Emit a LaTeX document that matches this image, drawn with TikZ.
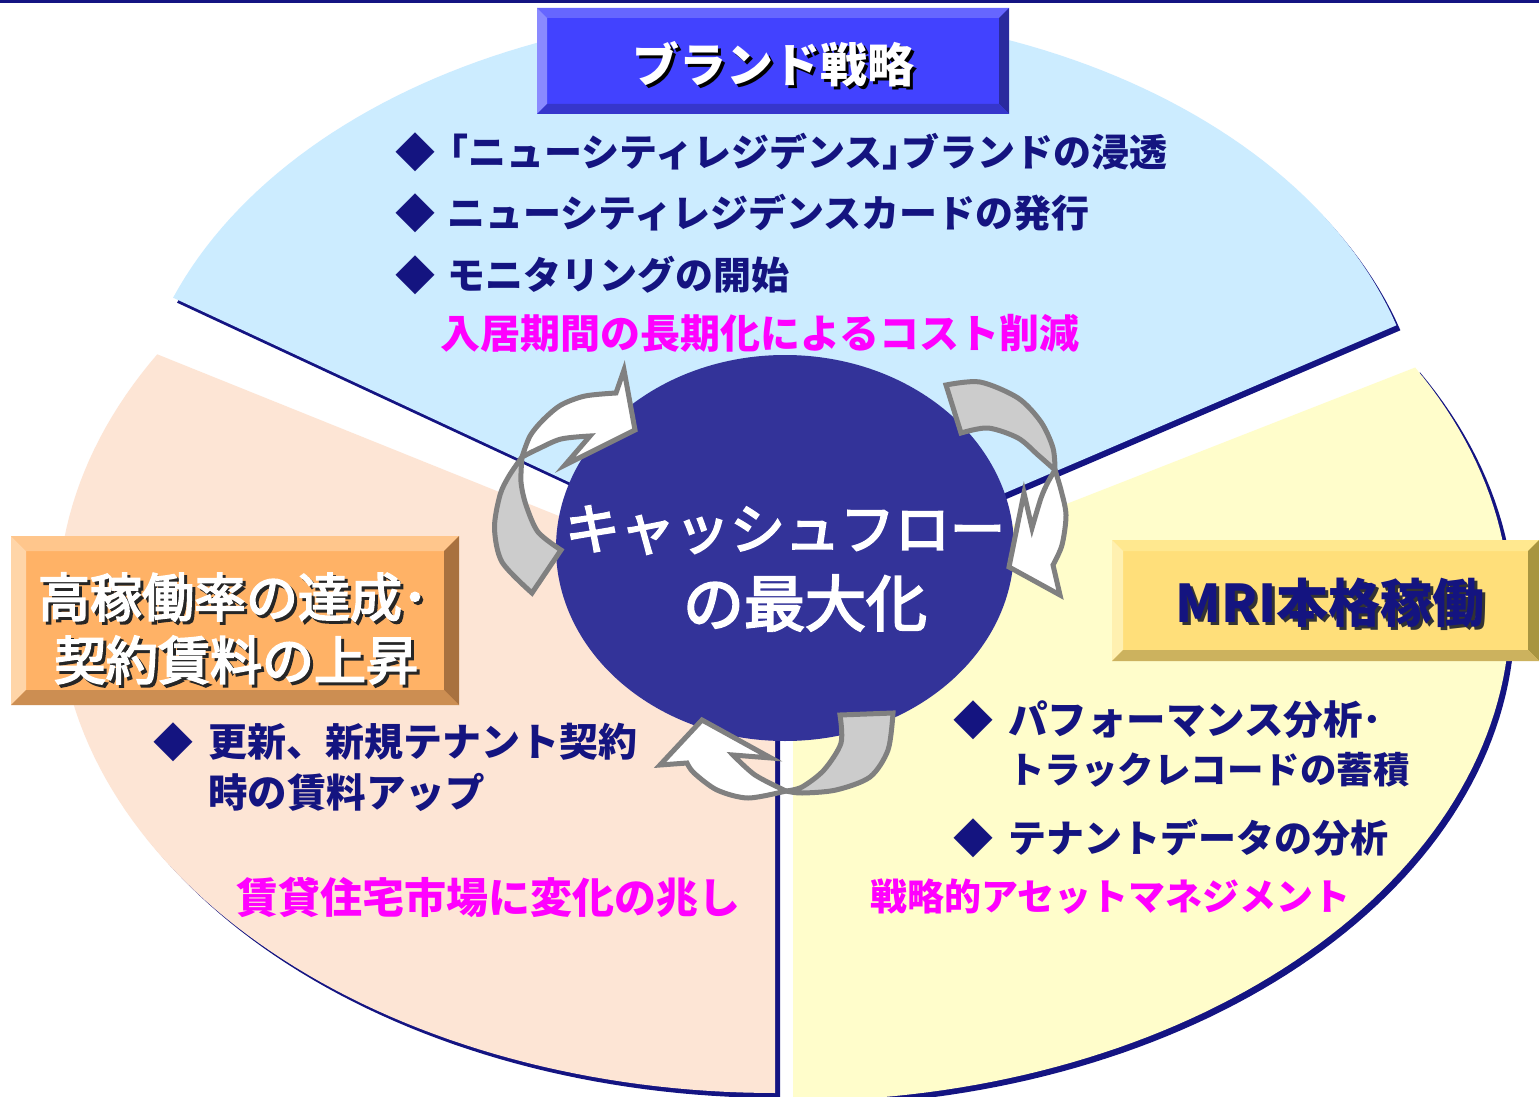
\documentclass[tikz,border=0pt]{standalone}
\usepackage{fontspec}
\newfontfamily\jp{Noto Sans CJK JP}
\newfontfamily\jpm{Noto Sans CJK JP}[FakeBold=3.5]
\definecolor{navyln}{HTML}{141482}
\definecolor{bluefill}{HTML}{CCECFF}
\definecolor{peach}{HTML}{FDE5D5}
\definecolor{yellowf}{HTML}{FFFDCB}
\definecolor{circ}{HTML}{333399}
\definecolor{txtnavy}{HTML}{141480}
\definecolor{pinktxt}{HTML}{FF00FF}
\definecolor{arrgray}{HTML}{808080}
\definecolor{arrfill}{HTML}{CCCCCC}
\newcommand\bevbox[5]{%
  \fill[bvmain] (#1,#2) rectangle (#3,#4);
  \fill[bvtop] (#1,#2) -- (#3,#2) -- ({#3-#5},{#2+#5}) -- ({#1+#5},{#2+#5}) -- cycle;
  \fill[bvleft] (#1,#2) -- ({#1+#5},{#2+#5}) -- ({#1+#5},{#4-#5}) -- (#1,#4) -- cycle;
  \fill[bvright] (#3,#2) -- ({#3-#5},{#2+#5}) -- ({#3-#5},{#4-#5}) -- (#3,#4) -- cycle;
  \fill[bvbot] (#1,#4) -- ({#1+#5},{#4-#5}) -- ({#3-#5},{#4-#5}) -- (#3,#4) -- cycle;
}
\tikzset{
  bullettxt/.style={anchor=west, text=txtnavy, inner sep=0pt, font=\jp\bfseries\fontsize{38}{40}\selectfont},
  bulletmark/.style={text=txtnavy, inner sep=0pt, font=\jp\fontsize{40}{40}\selectfont},
  pinkline/.style={anchor=west, text=pinktxt, inner sep=0pt, font=\jp\bfseries\fontsize{40}{42}\selectfont},
  arrline/.style={draw=arrgray, line width=5pt, line join=miter, miter limit=6},
}
\begin{document}
\begin{tikzpicture}[x=1pt,y=-1pt]
\useasboundingbox (0,0) rectangle (1539,1097);
\fill[white] (0,0) rectangle (1539,1097);
\fill[navyln] (0,0) rectangle (1539,3);

% top wedge
\foreach \dx/\dy/\col in {4/5/navyln, 0/0/bluefill}{
  \fill[\col, shift={(\dx,\dy)}] (790,585) -- plot[domain=200.3:343.5, samples=100, variable=\t] ({778+645*cos(\t)},{450+439*sin(\t)}) -- cycle;
}
% left wedge
\foreach \dx/\dy/\col in {5/5/navyln, 0/0/peach}{
  \fill[\col, shift={(\dx,\dy)}] (775,603) -- plot[domain=210.5:90, samples=90, variable=\t] ({775+717*cos(\t)},{603+490*sin(\t)}) -- cycle;
}
% right wedge
\foreach \dx/\dy/\col in {5/5/navyln, 0/0/yellowf}{
  \fill[\col, shift={(\dx,\dy)}] (793,611) -- plot[domain=-29.8:90, samples=90, variable=\t] ({793+717*cos(\t)},{611+490*sin(\t)}) -- cycle;
}

% central ellipse
\fill[circ] (785,548) ellipse [x radius=229, y radius=193];
\node[text=white, inner sep=0pt, font=\jpm\fontsize{55}{60}\selectfont] (c1) at (785,530) {キャッシュフロー};
\node[text=white, inner sep=0pt, font=\jpm\fontsize{61}{64}\selectfont] (c2) at (805,603) {の最大化};

% arrow top-left
\filldraw[arrline, fill=arrfill] plot[smooth] coordinates {(522,457) (509,476) (500,495) (494.5,528) (502,562) (532,593)} -- plot[smooth] coordinates {(561,550) (538,532) (526,505) (521,482) (522,457)} -- cycle;
\filldraw[arrline, fill=white] plot[smooth] coordinates {(522,457) (530,436) (543,420) (561,405) (585,396) (616,393)} -- (624,370) -- (635,430) -- (565,465) -- plot[smooth] coordinates {(590,436) (561,439) (538,449) (522,457)} -- cycle;
% arrow right
\filldraw[arrline, fill=arrfill] plot[smooth] coordinates {(1055,470) (1053,448) (1041,422) (1018,398) (980,382) (946,385)} -- plot[smooth] coordinates {(961,433) (988,428) (1018,438) (1038,455) (1055,470)} -- cycle;
\filldraw[arrline, fill=white] plot[smooth] coordinates {(1055,470) (1061,490) (1066,515) (1062,545) (1053,565)} -- (1060,595) -- (1009,567) -- (1024,493) -- plot[smooth] coordinates {(1032,528) (1041,498) (1048,482) (1055,470)} -- cycle;
% arrow bottom
\filldraw[arrline, fill=arrfill] plot[smooth] coordinates {(893,713) (888,750) (870,777) (836,790) (802,793) (786,791)} -- plot[smooth] coordinates {(786,791) (802,787) (824,770) (841,743) (840,715)} -- cycle;
\filldraw[arrline, fill=white] plot[smooth] coordinates {(786,791) (748,798) (717,790) (694,773) (687,763)} -- (660,765) -- (702,720) -- (771,758) -- plot[smooth] coordinates {(733,755) (755,775) (786,791)} -- cycle;

% boxes
\definecolor{bvmain}{HTML}{4242FF}
\definecolor{bvtop}{HTML}{6666FF}
\definecolor{bvleft}{HTML}{8A8AFF}
\definecolor{bvright}{HTML}{2A2A9E}
\definecolor{bvbot}{HTML}{3636CC}
\bevbox{537}{8}{1009}{114}{10}
\node[text=black, font=\jp\bfseries\fontsize{47}{48}\selectfont] (h1s) at (776,67) {ブランド戦略};
\node[text=white, font=\jp\bfseries\fontsize{47}{48}\selectfont] (h1) at (773,64) {ブランド戦略};

\definecolor{bvmain}{HTML}{FFB266}
\definecolor{bvtop}{HTML}{FFC68C}
\definecolor{bvleft}{HTML}{FFD5A8}
\definecolor{bvright}{HTML}{A8713F}
\definecolor{bvbot}{HTML}{CC8E52}
\bevbox{11}{536}{459}{705}{15}
\node[text=black!85, font=\jpm\fontsize{52}{54}\selectfont] (h2as) at (236,600) {高稼働率の達成･};
\node[text=white, font=\jpm\fontsize{52}{54}\selectfont] (h2a) at (233,597) {高稼働率の達成･};
\node[text=black!85, font=\jpm\fontsize{52}{54}\selectfont] (h2bs) at (239,663) {契約賃料の上昇};
\node[text=white, font=\jpm\fontsize{52}{54}\selectfont] (h2b) at (236,660) {契約賃料の上昇};

\definecolor{bvmain}{HTML}{FFDF7A}
\definecolor{bvtop}{HTML}{FFE88F}
\definecolor{bvleft}{HTML}{FFF0B0}
\definecolor{bvright}{HTML}{A89540}
\definecolor{bvbot}{HTML}{CCB25E}
\bevbox{1112}{540}{1539}{661}{11}
\node[text=black!80, font=\jp\bfseries\fontsize{52}{54}\selectfont] (h3s) at (1333,606) {MRI本格稼働};
\node[text=txtnavy, font=\jp\bfseries\fontsize{52}{54}\selectfont] (h3) at (1330,603) {MRI本格稼働};

% top bullets
\node[bulletmark] (b1) at (415,152) {◆};
\node[bullettxt] (t1) at (447,152) {\kern-17pt「ニューシティレジデンス」\kern-19pt ブランドの浸透};
\node[bulletmark] (b2) at (415,213) {◆};
\node[bullettxt] (t2) at (447,213) {ニューシティレジデンスカードの発行};
\node[bulletmark] (b3) at (415,275) {◆};
\node[bullettxt] (t3) at (447,275) {モニタリングの開始};
\node[pinkline] (p1) at (440,333) {入居期間の長期化によるコスト削減};

% left bullets
\node[bulletmark] (b4) at (173,742) {◆};
\node[bullettxt, font=\jp\bfseries\fontsize{39}{40}\selectfont] (t4) at (208,742) {更新、新規テナント契約};
\node[bullettxt, font=\jp\bfseries\fontsize{39.5}{40}\selectfont] (t5) at (208,792) {時の賃料アップ};
\node[pinkline, font=\jp\bfseries\fontsize{42}{42}\selectfont] (p2) at (236,897) {賃貸住宅市場に変化の兆し};

% right bullets
\node[bulletmark] (b5) at (973,720) {◆};
\node[bullettxt, font=\jp\bfseries\fontsize{39.5}{40}\selectfont] (t6) at (1008,720) {パフォーマンス分析･};
\node[bullettxt, font=\jp\bfseries\fontsize{36.5}{40}\selectfont] (t7) at (1008,770) {トラックレコードの蓄積};
\node[bulletmark] (b6) at (973,838) {◆};
\node[bullettxt] (t8) at (1008,838) {テナントデータの分析};
\node[pinkline, font=\jp\bfseries\fontsize{37}{40}\selectfont] (p3) at (870,897) {戦略的アセットマネジメント};
\end{tikzpicture}
\end{document}
